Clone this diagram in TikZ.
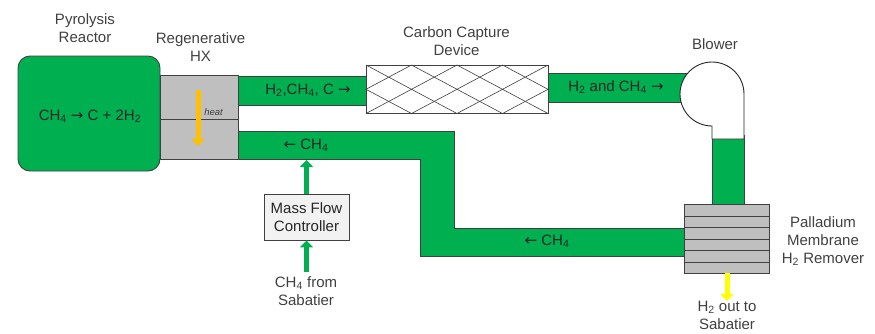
\documentclass[tikz,border=0pt]{standalone}
\usepackage{fontspec}
\setmainfont{Liberation Sans}
\newfontfamily\arrowfont{DejaVu Sans}
\usetikzlibrary{arrows.meta}
\definecolor{pipegreen}{HTML}{00B050}
\definecolor{hxgray}{HTML}{BFBFBF}
\definecolor{edgegray}{HTML}{404040}
\definecolor{labelgray}{HTML}{404040}
\definecolor{heatorange}{HTML}{FFC000}
\definecolor{hyellow}{HTML}{FFFF00}
\newcommand{\sub}[1]{\textsubscript{#1}}
\newcommand{\rarr}{{\arrowfont →}}
\newcommand{\larr}{{\arrowfont ←}}
\tikzset{
    pipe/.style={draw=edgegray,fill=pipegreen,line width=0.9pt},
    hxbox/.style={draw=edgegray,fill=hxgray,line width=0.9pt},
    lbl/.style={text=labelgray,font=\fontsize{15}{18}\selectfont,align=center,inner sep=0pt},
    pipelbl/.style={text=black!85,font=\fontsize{15}{18}\selectfont,inner sep=0pt},
    flow/.style={line width=5pt,-{Triangle[width=13pt,length=7pt]}}
}
\begin{document}
\begin{tikzpicture}[x=1pt,y=-1pt]
    \useasboundingbox (0,0) rectangle (875,333);

    % pipes
    \draw[pipe] (238,76) rectangle (366,105);
    \draw[pipe] (548,73) rectangle (690,102);
    \draw[pipe] (712,135) rectangle (744,204);
    \draw[pipe] (238,131) -- (454,131) -- (454,228) -- (684,228) -- (684,256) -- (420,256) -- (420,159) -- (238,159) -- cycle;

    % reactor and heat exchanger
    \node[draw=edgegray,fill=pipegreen,line width=0.9pt,rounded corners=12pt,minimum width=142pt,minimum height=115pt,inner sep=0pt] (reactor) at (89,113.5) {};
    \draw[hxbox] (160,75) rectangle (238,159);
    \draw[hxbox] (160,119) -- (238,119);
    \coordinate (hottop) at (198,90);
    \coordinate (hotbot) at (198,146);
    \draw[flow,heatorange] (hottop) -- (hotbot);
    \node[text=labelgray,font=\fontsize{9.5}{10}\selectfont\itshape,inner sep=0pt] (heat) at (213.5,112.5) {heat};

    % carbon capture device
    \node[draw=edgegray,fill=white,line width=0.9pt,minimum width=182pt,minimum height=48.5pt,inner sep=0pt] (capture) at (457,89.3) {};
    \foreach \i in {0,...,3} {
        \draw[edgegray,line width=0.6pt] (366+\i*45.5,65) -- (366+\i*45.5+45.5,89.3) -- (366+\i*45.5,113.5);
        \draw[edgegray,line width=0.6pt] (366+\i*45.5+45.5,65) -- (366+\i*45.5,89.3) -- (366+\i*45.5+45.5,113.5);
    }

    % blower
    \draw[draw=black!85,fill=white,line width=0.9pt] (712,126) arc[start angle=270,end angle=0,x radius=32,y radius=-32] -- (744,139) -- (712,139) -- cycle;

    % membrane
    \draw[hxbox] (684,204) rectangle (769,273);
    \foreach \y in {216,227.5,239,250.5,262}
        \draw[edgegray,line width=0.9pt] (684,\y) -- (769,\y);
    \coordinate (remover) at (727,273);
    \coordinate (h2end) at (727,301);
    \draw[flow,hyellow] (remover) -- (h2end);

    % mass flow controller
    \node[draw=edgegray,fill=black!5,line width=0.9pt,minimum width=85pt,minimum height=46pt,inner sep=0pt,lbl,text=black!85] (mfc) at (306.5,217) {Mass Flow\\[0pt]Controller};
    \coordinate (mfcfeed) at (306.5,272);
    \coordinate (pipein) at (306.5,160);
    \draw[flow,pipegreen] (mfcfeed) -- (mfc.south);
    \draw[flow,pipegreen] (mfc.north) -- (pipein);

    % labels
    \node[lbl] (pyro) at (85,28) {Pyrolysis\\Reactor};
    \node[lbl] (regen) at (200.5,47.5) {Regenerative\\HX};
    \node[lbl] (carbon) at (456.5,41.5) {Carbon Capture\\Device};
    \node[lbl] (blower) at (715,44) {Blower};
    \node[lbl] (palladium) at (823,241) {Palladium\\Membrane\\H\sub{2} Remover};
    \node[lbl] (h2out) at (727,315) {H\sub{2} out to\\Sabatier};
    \node[lbl] (ch4src) at (306,291) {CH\sub{4} from\\Sabatier};

    \node[pipelbl] (rxn) at (90,116) {CH\sub{4} \rarr{} C + 2H\sub{2}};
    \node[pipelbl] (toplbl) at (308,90) {H\sub{2},CH\sub{4}, C \rarr};
    \node[pipelbl] (botlbl) at (306,145) {\larr{} CH\sub{4}};
    \node[pipelbl] (blowlbl) at (616,87) {H\sub{2} and CH\sub{4} \rarr};
    \node[pipelbl] (retlbl) at (547,241) {\larr{} CH\sub{4}};
\end{tikzpicture}
\end{document}
